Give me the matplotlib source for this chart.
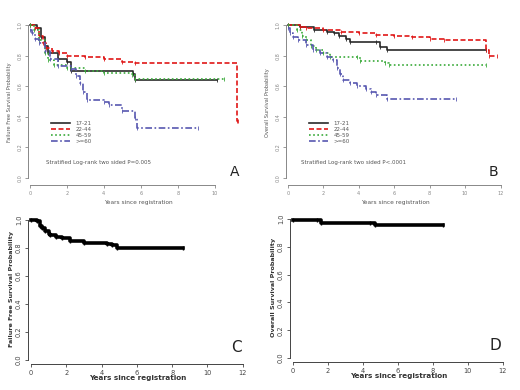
import matplotlib
matplotlib.use("Agg")
import matplotlib.pyplot as plt

# ---------------- data ----------------
groups = ["17-21", "22-44", "45-59", ">=60"]

# Panel A: failure free survival by age group
a_t_1721 = [0, 0.4, 0.6, 0.8, 1.0, 1.5, 2.0, 2.2, 5.6, 5.7, 10.1]
a_s_1721 = [1.0, 0.98, 0.92, 0.86, 0.82, 0.78, 0.76, 0.70, 0.68, 0.64, 0.64]
a_t_2244 = [0, 0.3, 0.5, 0.7, 0.9, 1.2, 1.6, 2.0, 3.0, 4.0, 5.0, 5.7, 11.2, 11.25]
a_s_2244 = [1.0, 0.98, 0.93, 0.88, 0.85, 0.83, 0.815, 0.80, 0.79, 0.775, 0.76, 0.755, 0.37, 0.37]
a_t_4559 = [0, 0.2, 0.5, 0.8, 1.0, 1.3, 2.0, 3.0, 4.0, 5.5, 5.7, 10.5]
a_s_4559 = [1.0, 0.97, 0.90, 0.82, 0.77, 0.74, 0.72, 0.70, 0.685, 0.675, 0.65, 0.65]
a_t_60 = [0, 0.1, 0.3, 0.5, 0.8, 1.1, 1.5, 2.2, 2.5, 2.7, 2.9, 3.1, 4.0, 4.3, 5.0, 5.7, 5.8, 9.1]
a_s_60 = [0.97, 0.95, 0.91, 0.88, 0.83, 0.78, 0.73, 0.71, 0.67, 0.62, 0.56, 0.51, 0.50, 0.48, 0.44, 0.39, 0.33, 0.33]

# Panel B: overall survival by age group
b_t_1721 = [0, 0.7, 1.5, 2.2, 2.6, 2.9, 3.3, 3.5, 5.0, 5.2, 5.6, 11.2]
b_s_1721 = [1.0, 0.985, 0.97, 0.957, 0.945, 0.928, 0.91, 0.89, 0.89, 0.858, 0.84, 0.84]
b_t_2244 = [0, 0.7, 1.0, 2.0, 3.0, 4.0, 5.0, 6.0, 7.0, 8.0, 8.8, 11.2, 11.35, 11.8]
b_s_2244 = [1.0, 0.99, 0.98, 0.967, 0.955, 0.946, 0.935, 0.928, 0.92, 0.912, 0.905, 0.84, 0.80, 0.80]
b_t_4559 = [0, 0.5, 0.8, 1.0, 1.3, 1.6, 2.0, 2.4, 3.9, 4.05, 5.5, 5.7, 11.2]
b_s_4559 = [1.0, 0.97, 0.93, 0.90, 0.86, 0.84, 0.815, 0.79, 0.79, 0.765, 0.75, 0.74, 0.74]
b_t_60 = [0, 0.1, 0.3, 0.6, 1.0, 1.4, 1.8, 2.2, 2.55, 2.8, 2.95, 3.1, 3.5, 3.9, 4.4, 4.7, 5.0, 5.6, 9.5]
b_s_60 = [0.98, 0.95, 0.92, 0.90, 0.87, 0.84, 0.815, 0.79, 0.77, 0.72, 0.68, 0.64, 0.62, 0.60, 0.585, 0.56, 0.54, 0.515, 0.515]

# Panel C: failure free survival, all
c_t = [0, 0.35, 0.5, 0.6, 0.8, 1.0, 1.1, 1.4, 1.75, 2.2, 3.0, 4.3, 4.6, 4.9, 8.6]
c_s = [1.0, 0.99, 0.96, 0.94, 0.92, 0.90, 0.893, 0.88, 0.869, 0.85, 0.833, 0.826, 0.82, 0.80, 0.80]

# Panel D: overall survival, all
d_t = [0, 1.35, 1.6, 4.4, 4.7, 8.6]
d_s = [0.995, 0.99, 0.974, 0.974, 0.957, 0.957]

yticks = [0.0, 0.2, 0.4, 0.6, 0.8, 1.0]
ytick_labels = ["0.0", "0.2", "0.4", "0.6", "0.8", "1.0"]

colors = ["#2a2a2a", "#e01818", "#3aaa3a", "#5858b0"]
styles = ["-", (0, (3, 1.5)), (0, (1, 1.5)), (0, (4, 1.5, 1, 1.5))]

W, H = 520, 390
fig = plt.figure(figsize=(5.2, 3.9), dpi=100)


def px_axes(left, right, top, bottom):
    return fig.add_axes([left / W, 1 - bottom / H, (right - left) / W, (bottom - top) / H])


def style_axes(ax, xmax_tick, col, lsize, xticks):
    for s in ["top", "right"]:
        ax.spines[s].set_visible(False)
    for s in ["left", "bottom"]:
        ax.spines[s].set_color(col)
        ax.spines[s].set_linewidth(0.7)
    ax.spines["bottom"].set_bounds(0, xmax_tick)
    ax.spines["left"].set_bounds(0, 1)
    ax.set_yticks(yticks)
    ax.set_yticklabels(ytick_labels, rotation=90, va="center")
    ax.set_xticks(xticks)
    ax.set_xticklabels([str(x) for x in xticks])
    ax.tick_params(colors=col, labelsize=lsize, length=2.5, width=0.6, pad=1.5)


# ---- Panel A ----
axA = px_axes(28, 248, 20, 185)
axA.set_xlim(-0.1, 11.8)
axA.set_ylim(-0.046, 1.033)
ser_a = [(a_t_1721, a_s_1721), (a_t_2244, a_s_2244), (a_t_4559, a_s_4559), (a_t_60, a_s_60)]
for (t, s), c, ls, g in zip(ser_a, colors, styles, groups):
    axA.step(t, s, where="post", color=c, linestyle=ls, linewidth=1.2,
             marker="|", markersize=2.5, markeredgewidth=0.6, label=g)
style_axes(axA, 10, "#888888", 3.5, [0, 2, 4, 6, 8, 10])
axA.legend(loc="upper left", bbox_to_anchor=(0.08, 0.42), frameon=False, fontsize=4,
           handlelength=3.5, labelspacing=0.2, handletextpad=1.0, labelcolor="#555555")
for line in axA.get_legend().get_lines():
    line.set_marker("")
axA.text(0.08, 0.125, "Stratified Log-rank two sided P=0.005", transform=axA.transAxes,
         fontsize=4, color="#555555")
axA.set_ylabel("Failure Free Survival Probability", fontsize=3.6, color="#555555", labelpad=4)
axA.set_xlabel("Years since registration", fontsize=4.2, color="#555555", labelpad=3)
fig.text(235 / W, 1 - 172 / H, "A", fontsize=10, color="#222222", ha="center", va="center")

# ---- Panel B ----
axB = px_axes(286, 505, 20, 185)
axB.set_xlim(-0.1, 12.25)
axB.set_ylim(-0.046, 1.033)
ser_b = [(b_t_1721, b_s_1721), (b_t_2244, b_s_2244), (b_t_4559, b_s_4559), (b_t_60, b_s_60)]
for (t, s), c, ls, g in zip(ser_b, colors, styles, groups):
    axB.step(t, s, where="post", color=c, linestyle=ls, linewidth=1.2,
             marker="|", markersize=2.5, markeredgewidth=0.6, label=g)
style_axes(axB, 12, "#888888", 3.5, [0, 2, 4, 6, 8, 10, 12])
axB.legend(loc="upper left", bbox_to_anchor=(0.08, 0.42), frameon=False, fontsize=4,
           handlelength=3.5, labelspacing=0.2, handletextpad=1.0, labelcolor="#555555")
for line in axB.get_legend().get_lines():
    line.set_marker("")
axB.text(0.07, 0.125, "Stratified Log-rank two sided P<.0001", transform=axB.transAxes,
         fontsize=4, color="#555555")
axB.set_ylabel("Overall Survival Probability", fontsize=3.6, color="#555555", labelpad=4)
axB.set_xlabel("Years since registration", fontsize=4.2, color="#555555", labelpad=3)
fig.text(493 / W, 1 - 172 / H, "B", fontsize=10, color="#222222", ha="center", va="center")

# ---- Panel C ----
axC = px_axes(27.5, 248, 214.4, 364.2)
axC.set_xlim(-0.2, 12.3)
axC.set_ylim(-0.03, 1.04)
axC.step(c_t, c_s, where="post", color="black", linewidth=2.6,
         marker="|", markersize=3.5, markeredgewidth=1.0)
style_axes(axC, 12, "#444444", 4.8, [0, 2, 4, 6, 8, 10, 12])
axC.set_ylabel("Failure Free Survival Probability", fontsize=4.6, fontweight="bold",
               color="#333333", labelpad=1.5)
axC.set_xlabel("Years since registration", fontsize=5.2, fontweight="bold",
               color="#333333", labelpad=-0.5)
fig.text(236 / W, 1 - 348 / H, "C", fontsize=11, color="#222222", ha="center", va="center")

# ---- Panel D ----
axD = px_axes(289.5, 508, 213.4, 362.2)
axD.set_xlim(-0.2, 12.3)
axD.set_ylim(-0.03, 1.04)
axD.step(d_t, d_s, where="post", color="black", linewidth=2.6,
         marker="|", markersize=3.5, markeredgewidth=1.0)
style_axes(axD, 12, "#444444", 4.8, [0, 2, 4, 6, 8, 10, 12])
axD.set_ylabel("Overall Survival Probability", fontsize=4.6, fontweight="bold",
               color="#333333", labelpad=1.5)
axD.set_xlabel("Years since registration", fontsize=5.2, fontweight="bold",
               color="#333333", labelpad=-0.5)
fig.text(495 / W, 1 - 345 / H, "D", fontsize=11, color="#222222", ha="center", va="center")

fig.savefig("out.png", dpi=100)
